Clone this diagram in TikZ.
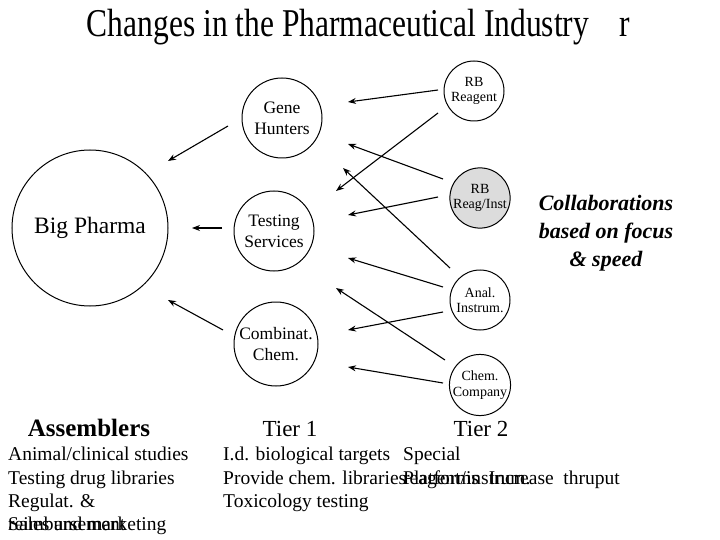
\documentclass[tikz,border=0pt]{standalone}
\usepackage{fontspec}
\usepackage{graphicx}
\setmainfont{Liberation Serif}
\usetikzlibrary{calc,arrows.meta}
\definecolor{shade}{HTML}{DCDCDC}
\begin{document}
\begin{tikzpicture}[x=1pt,y=-1pt,
  bub/.style={circle,draw,line width=1pt,inner sep=0pt,align=center},
  bignode/.style={bub,minimum size=80pt,font=\fontsize{17.5}{21}\selectfont},
  smallnode/.style={bub,minimum size=60pt,font=\fontsize{14}{15.5}\selectfont},
  arr/.style={line width=1.1pt,-{Stealth[length=8pt,width=6pt]}},
  lst/.style={anchor=base west,inner sep=0pt,font=\fontsize{19.5}{23}\selectfont},
  hdr/.style={anchor=base,inner sep=0pt,font=\fontsize{23}{27}\selectfont}]
\fill[white] (0,0) rectangle (720,540);
\useasboundingbox (0,0) rectangle (720,540);

% title
\node[anchor=base,inner sep=0pt,font=\fontsize{31.5}{36}\selectfont] (title) at (338,37)
  {\scalebox{1}[1.25]{Changes in the Pharmaceutical Industry}};
\node[anchor=base,inner sep=0pt,font=\fontsize{31.5}{36}\selectfont] (titler) at (625,37)
  {\scalebox{1}[1.25]{r}};

% nodes
\node[bub,minimum size=156pt,font=\fontsize{23.5}{27}\selectfont] (bp) at (90,228) {Big Pharma};
\node[bignode] (gh) at (282,118) {Gene\\Hunters};
\node[bignode] (ts) at (274,231) {Testing\\Services};
\node[bignode,minimum size=84pt] (cc) at (276,344) {Combinat.\\Chem.};
\node[smallnode] (rba) at (474,91) {RB\\Reagent};
\node[smallnode,fill=shade] (rbi) at (480,198) {RB\\Reag/Inst};
\node[smallnode] (ai) at (480,300) {Anal.\\Instrum.};
\node[smallnode] (ch) at (480,385) {Chem.\\Company};

% arrows
\draw[arr] ($(rba)+(-36,-1)$) -- ($(gh)+(66,-16)$);
\draw[arr] ($(rba)+(-36,22)$) -- ($(ts)+(62,-40)$);
\draw[arr] ($(rbi)+(-37,-19)$) -- ($(gh)+(66,26)$);
\draw[arr] ($(rbi)+(-42,-1)$) -- ($(ts)+(74,-16)$);
\draw[arr] ($(ai)+(-30,-32)$) -- ($(gh)+(61,50)$);
\draw[arr] ($(ai)+(-37,-13)$) -- ($(ts)+(74,27)$);
\draw[arr] ($(ai)+(-37,12)$) -- ($(cc)+(72,-14)$);
\draw[arr] ($(ch)+(-35,-25)$) -- ($(ts)+(62,57)$);
\draw[arr] ($(ch)+(-37,-2)$) -- ($(cc)+(72,23)$);
\draw[arr] ($(gh)+(-54,8)$) -- ($(bp)+(78,-67)$);
\draw[arr] ($(ts)+(-52,-3)$) -- ($(bp)+(102,0)$);
\draw[arr] ($(cc)+(-53,-14)$) -- ($(bp)+(78,72)$);

% collaborations
\node[align=center,inner sep=0pt,font=\fontsize{22}{28}\selectfont\bfseries\itshape] (collab) at (606,233)
  {Collaborations\\based on focus\\\& speed};

% headers
\node[hdr,font=\fontsize{25}{28}\selectfont\bfseries] (asm) at (89,436) {Assemblers};
\node[hdr] (tier1) at (290,436) {Tier 1};
\node[hdr] (tier2) at (481,436) {Tier 2};

% lists
\node[lst] (a1) at (8,460) {Animal/clinical studies};
\node[lst] (a2) at (8,484) {Testing drug libraries};
\node[lst] (a3) at (8,507) {Regulat. \&};
\node[lst] (a4) at (8,530) {reimbursement};
\node[lst] (a5) at (8,530) {Sales and marketing};
\node[lst] (t1a) at (223,460) {I.d. biological targets};
\node[lst] (t1b) at (223,484) {Provide chem. libraries};
\node[lst] (t1c) at (223,507) {Toxicology testing};
\node[lst] (t2a) at (403,460) {Special};
\node[lst] (t2b) at (403,484) {reagent/instrum.};
\node[lst] (t2c) at (403,484) {Platforms\ \ Increase\ \ thruput};
\end{tikzpicture}
\end{document}
